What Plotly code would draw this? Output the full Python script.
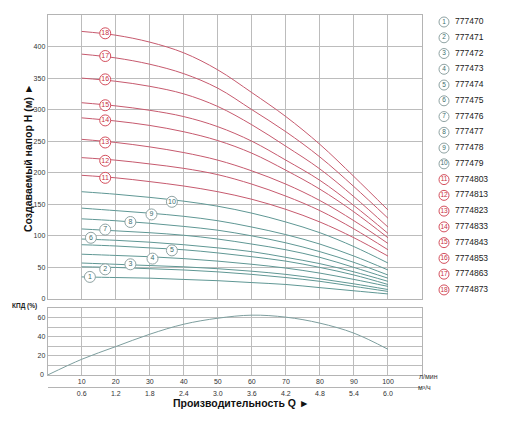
import plotly.graph_objects as go

# flow, l/min
q = [10, 20, 30, 40, 50, 60, 70, 80, 90, 100]
m3h = ["0.6", "1.2", "1.8", "2.4", "3.0", "3.6", "4.2", "4.8", "5.4", "6.0"]

# head curves H (m)
h1 = [35, 34, 33, 31, 29, 26, 23, 18, 13, 8]
h2 = [51, 50, 48, 46, 43, 39, 34, 28, 20, 12]
h3 = [57, 55, 53, 51, 48, 44, 39, 32, 24, 15]
h4 = [71, 69, 67, 64, 60, 55, 49, 41, 31, 20]
h5 = [86, 84, 81, 78, 73, 67, 60, 50, 38, 23]
h6 = [95, 93, 90, 86, 81, 75, 66, 56, 43, 28]
h7 = [111, 108, 105, 101, 95, 87, 78, 66, 50, 33]
h8 = [127, 124, 120, 115, 109, 100, 89, 75, 58, 38]
h9 = [144, 140, 136, 131, 124, 114, 102, 87, 68, 46]
h10 = [170, 166, 161, 155, 147, 136, 122, 105, 83, 57]
h11 = [196, 192, 186, 179, 170, 158, 142, 122, 97, 68]
h12 = [224, 220, 214, 207, 197, 182, 163, 140, 111, 78]
h13 = [253, 248, 241, 232, 220, 203, 182, 156, 124, 88]
h14 = [287, 282, 275, 265, 251, 231, 204, 174, 138, 97]
h15 = [311, 306, 299, 289, 273, 250, 220, 188, 148, 104]
h16 = [350, 345, 337, 325, 305, 276, 242, 206, 162, 114]
h17 = [388, 382, 372, 357, 334, 300, 265, 225, 178, 128]
h18 = [424, 418, 407, 390, 363, 327, 289, 245, 194, 141]
heads = [h1, h2, h3, h4, h5, h6, h7, h8, h9, h10,
         h11, h12, h13, h14, h15, h16, h17, h18]

models = ["777470", "777471", "777472", "777473", "777474", "777475",
          "777476", "777477", "777478", "777479", "7774803", "7774813",
          "7774823", "7774833", "7774843", "7774853", "7774863", "7774873"]

# efficiency curve
eff_q = [0, 10, 20, 30, 40, 50, 60, 70, 80, 90, 100]
eff = [0, 16.5, 29.8, 42.8, 53.3, 59.6, 62.8, 60.7, 54.4, 43.9, 27]

# where the numbered circles sit on the curves
lbl_q = [12.4, 16.9, 24.3, 30.8, 36.5, 12.7, 16.9, 24.3, 30.5, 36.5,
         16.9, 16.9, 16.9, 16.9, 16.9, 16.9, 16.9, 16.9]
lbl_h = [35, 47, 55, 64, 77, 97, 110, 122, 134, 154,
         192, 219, 248, 283, 307, 348, 385, 421]

W, H = 512, 426
TEAL = "#5f9794"
RED = "#c65a6e"
TEAL_TXT = "#3d6e6c"
RED_TXT = "#c8323e"
TEAL_RING = "#8fa3a3"
RED_RING = "#d4505e"
GRID = "#bcbcbc"
FRAME = "#b4b4b4"
FONT = "Liberation Sans, Arial, sans-serif"

xdom = [47.7 / W, 422 / W]
ytop = [1 - 299 / H, 1 - 15 / H]
ybot = [1 - 375 / H, 1 - 308.3 / H]

fig = go.Figure()

for i, h in enumerate(heads):
    fig.add_trace(go.Scatter(x=q, y=h, mode="lines", xaxis="x", yaxis="y",
                             line=dict(color=TEAL if i < 10 else RED, width=1, shape="spline"),
                             hoverinfo="skip", showlegend=False))

nums = [str(i + 1) for i in range(18)]
rings = [TEAL_RING if i < 10 else RED_RING for i in range(18)]
txtc = [TEAL_TXT if i < 10 else RED_TXT for i in range(18)]

fig.add_trace(go.Scatter(x=lbl_q, y=lbl_h, mode="markers+text", text=nums,
                         xaxis="x", yaxis="y", cliponaxis=False,
                         marker=dict(size=11, color="white", line=dict(color=rings, width=1)),
                         textfont=dict(size=7, color=txtc, family=FONT),
                         textposition="middle center", hoverinfo="skip", showlegend=False))

fig.add_trace(go.Scatter(x=eff_q, y=eff, mode="lines", xaxis="x2", yaxis="y2",
                         line=dict(color="#7d9e9e", width=1, shape="spline"),
                         hoverinfo="skip", showlegend=False))
# keeps the m3/h axis drawn
fig.add_trace(go.Scatter(x=[0], y=[-10], mode="markers", xaxis="x3", yaxis="y2",
                         marker=dict(opacity=0), hoverinfo="skip", showlegend=False))

# legend column on its own pixel-like axes
rows = list(range(18))
fig.add_trace(go.Scatter(x=[444] * 18, y=rows, mode="markers+text", text=nums,
                         xaxis="x4", yaxis="y4", cliponaxis=False,
                         marker=dict(size=10, color="white", line=dict(color=rings, width=1)),
                         textfont=dict(size=6.5, color=txtc, family=FONT),
                         textposition="middle center", hoverinfo="skip", showlegend=False))
fig.add_trace(go.Scatter(x=[455] * 18, y=rows, mode="text", text=models,
                         xaxis="x4", yaxis="y4", cliponaxis=False,
                         textfont=dict(size=8.5, color="#1a1a1a", family=FONT),
                         textposition="middle right", hoverinfo="skip", showlegend=False))

tickf = dict(size=7, color="#333333", family=FONT)
common = dict(showgrid=True, gridcolor=GRID, gridwidth=1, showline=True, mirror=True,
              linecolor=FRAME, linewidth=1, zeroline=False, ticks="", automargin=False)

fig.update_layout(
    width=W, height=H, margin=dict(l=0, r=0, t=0, b=0),
    paper_bgcolor="white", plot_bgcolor="white", template="none",
    font=dict(family=FONT),
    xaxis=dict(domain=xdom, anchor="y", range=[0, 110], tickvals=q,
               showticklabels=False, **common),
    yaxis=dict(domain=ytop, anchor="x", range=[0, 450],
               tickvals=[0, 50, 100, 150, 200, 250, 300, 350, 400],
               tickfont=tickf, **common),
    xaxis2=dict(domain=xdom, anchor="y2", range=[0, 110], tickvals=q,
                ticktext=[str(v) for v in q], tickfont=tickf, **common),
    yaxis2=dict(domain=ybot, anchor="x2", range=[0, 70],
                tickvals=[10, 20, 30, 40, 50, 60],
                ticktext=["", "20", "", "40", "", "60"], tickfont=tickf, **common),
    xaxis3=dict(overlaying="x2", anchor="free", position=1 - 386.7 / H,
                range=[0, 110], tickvals=q, ticktext=m3h, tickfont=tickf,
                showgrid=False, showline=True, linecolor=FRAME, zeroline=False,
                ticks="", automargin=False),
    xaxis4=dict(domain=[426 / W, 1], range=[426, 512], visible=False),
    yaxis4=dict(domain=[0, 1], anchor="x4",
                range=[(H - 22) / 15.76, -22 / 15.76], visible=False),
    annotations=[
        dict(text="<b>Создаваемый напор H (м) ►</b>", x=20 / W, y=1 - 158 / H,
             xref="paper", yref="paper", textangle=-90, showarrow=False,
             font=dict(size=10.5, color="#111111")),
        dict(text="<b>Производительность Q ►</b>", x=241 / W, y=1 - 410.5 / H,
             xref="paper", yref="paper", showarrow=False,
             font=dict(size=10.5, color="#111111")),
        dict(text="<b>КПД (%)</b>", x=10 / W, y=1 - 311.7 / H, xanchor="left",
             xref="paper", yref="paper", showarrow=False,
             font=dict(size=6.5, color="#222222")),
        dict(text="л/мин", x=417 / W, y=1 - 381.7 / H, xanchor="left",
             xref="paper", yref="paper", showarrow=False, font=tickf),
        dict(text="м³/ч", x=416 / W, y=1 - 393 / H, xanchor="left",
             xref="paper", yref="paper", showarrow=False, font=tickf),
        dict(text="0", x=46 / W, y=1 - 380 / H, xanchor="right",
             xref="paper", yref="paper", showarrow=False, font=tickf),
    ],
)

# page body has an 8px margin by default; drop it so pixels line up
fig.write_html("out.html", config={"displayModeBar": False},
               post_script="document.body.style.margin='0';")
